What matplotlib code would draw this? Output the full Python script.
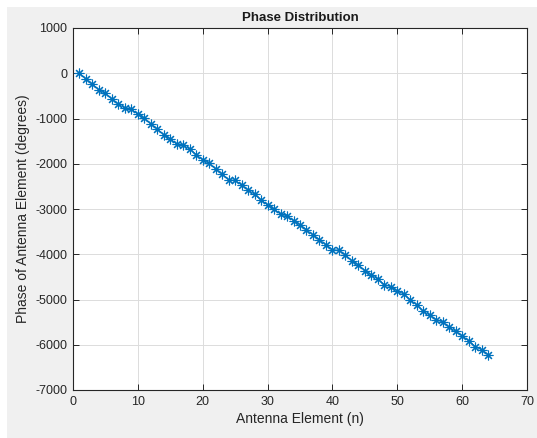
import matplotlib
matplotlib.use("Agg")
import matplotlib.pyplot as plt
from matplotlib.patches import Rectangle

# element index and phase values
elements = list(range(1, 65))
phase = [0, -130, -245, -365, -445, -570, -685, -770, -795, -905,
         -995, -1120, -1235, -1360, -1450, -1565, -1595, -1675, -1800, -1910,
         -1990, -2115, -2230, -2355, -2370, -2470, -2580, -2675, -2800, -2910,
         -3005, -3115, -3150, -3255, -3345, -3460, -3570, -3675, -3790, -3900,
         -3915, -4015, -4145, -4235, -4360, -4455, -4550, -4675, -4715, -4810,
         -4880, -5010, -5115, -5260, -5345, -5445, -5500, -5610, -5707, -5800,
         -5910, -6040, -6110, -6220]

xticks = [0, 10, 20, 30, 40, 50, 60, 70]
yticks = [1000, 0, -1000, -2000, -3000, -4000, -5000, -6000, -7000]

plt.rcParams['font.family'] = ['Liberation Sans', 'DejaVu Sans']
plt.rcParams['axes.unicode_minus'] = False

W, H = 537, 438
fig = plt.figure(figsize=(W / 100, H / 100), dpi=100, facecolor='white')
# gray matlab-like window background (screenshot has a thin white strip top/left)
fig.patches.append(Rectangle((7 / W, 0), 1, 1 - 7 / H, transform=fig.transFigure,
                             facecolor='#f0f0f0', edgecolor='none', zorder=-10))

ax = fig.add_axes([73 / W, 1 - 390 / H, (527 - 73) / W, (390 - 28) / H])
ax.set_facecolor('white')

# matlab style '*' = 8-spoke asterisk
ax.plot(elements, phase, color='#0072BD', lw=0.8, marker=(8, 2, 0), markersize=7,
        markeredgewidth=0.8)

ax.set_xlim(0, 70)
ax.set_ylim(-7000, 1000)
ax.set_xticks(xticks)
ax.set_yticks(yticks)
ax.grid(True, color='#dcdcdc', lw=0.7)
ax.set_axisbelow(True)

ax.tick_params(direction='in', top=True, right=True, length=4, width=0.7,
               colors='#262626', labelsize=9, pad=4)
for s in ax.spines.values():
    s.set_color('#262626')
    s.set_linewidth(0.8)

ax.set_title('Phase Distribution', fontsize=9.5, fontweight='bold', color='#1a1a1a', pad=5)
ax.set_xlabel('Antenna Element (n)', fontsize=10, color='#262626', labelpad=3)
ax.set_ylabel('Phase of Antenna Element (degrees)', fontsize=10, color='#262626', labelpad=4)

fig.savefig('out.png', dpi=100, facecolor=fig.get_facecolor())
